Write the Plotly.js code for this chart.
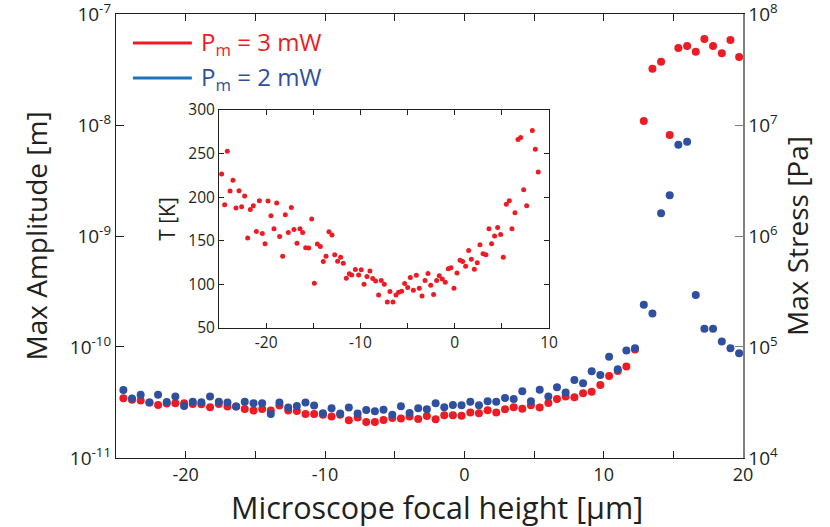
<!DOCTYPE html>
<html>
<head>
<meta charset="utf-8">
<script src="https://cdn.plot.ly/plotly-3.0.1.min.js"></script>
<style>
html,body{margin:0;padding:0;background:#fff;}
#chart{width:830px;height:527px;}
</style>
</head>
<body>
<div id="chart"></div>
<script>
// focal height positions [µm]
var focalHeight = [-24.47,-23.85,-23.23,-22.60,-21.98,-21.36,-20.74,-20.11,-19.49,-18.87,
  -18.25,-17.62,-17.00,-16.38,-15.76,-15.13,-14.51,-13.89,-13.27,-12.64,
  -12.02,-11.40,-10.78,-10.15,-9.53,-8.91,-8.29,-7.66,-7.04,-6.42,
  -5.80,-5.17,-4.55,-3.93,-3.31,-2.69,-2.06,-1.44,-0.82,-0.20,
  0.43,1.05,1.67,2.29,2.92,3.54,4.16,4.78,5.41,6.03,
  6.65,7.27,7.90,8.52,9.14,9.76,10.39,11.01,11.63,12.25,
  12.88,13.50,14.12,14.74,15.36,15.99,16.61,17.23,17.85,18.48,
  19.10,19.72];

// max amplitude [m], Pm = 3 mW
var amp3mW = [3.45e-11,3.35e-11,3.29e-11,3.15e-11,3.00e-11,3.10e-11,3.11e-11,3.11e-11,3.06e-11,3.05e-11,
  2.86e-11,3.06e-11,2.90e-11,2.90e-11,2.76e-11,2.67e-11,2.76e-11,2.67e-11,2.96e-11,2.67e-11,
  2.65e-11,2.49e-11,2.49e-11,2.45e-11,2.36e-11,2.45e-11,2.18e-11,2.31e-11,2.11e-11,2.11e-11,
  2.20e-11,2.29e-11,2.26e-11,2.36e-11,2.24e-11,2.39e-11,2.23e-11,2.42e-11,2.42e-11,2.40e-11,
  2.56e-11,2.52e-11,2.69e-11,2.56e-11,2.74e-11,2.86e-11,2.78e-11,2.98e-11,2.84e-11,3.13e-11,
  3.40e-11,3.57e-11,3.52e-11,3.83e-11,3.94e-11,4.55e-11,5.48e-11,6.08e-11,6.65e-11,9.5e-11,
  1.09e-8,3.21e-8,3.72e-8,8.13e-9,4.94e-8,5.15e-8,4.57e-8,5.95e-8,5.15e-8,4.43e-8,
  5.83e-8,4.10e-8];

// max amplitude [m], Pm = 2 mW
var amp2mW = [4.10e-11,3.43e-11,3.70e-11,3.15e-11,3.70e-11,3.19e-11,3.57e-11,2.94e-11,3.21e-11,3.17e-11,
  3.57e-11,3.21e-11,3.15e-11,2.90e-11,3.21e-11,3.11e-11,3.11e-11,2.49e-11,3.15e-11,2.84e-11,
  2.94e-11,3.15e-11,2.96e-11,2.52e-11,2.80e-11,2.51e-11,2.84e-11,2.51e-11,2.70e-11,2.63e-11,
  2.72e-11,2.45e-11,2.92e-11,2.54e-11,2.80e-11,2.74e-11,3.11e-11,2.86e-11,3.00e-11,2.98e-11,
  3.21e-11,2.98e-11,3.24e-11,3.20e-11,3.47e-11,3.40e-11,3.99e-11,3.24e-11,4.12e-11,3.57e-11,
  4.33e-11,3.88e-11,5.05e-11,4.71e-11,6.04e-11,5.60e-11,8.18e-11,6.30e-11,9.27e-11,9.73e-11,
  2.40e-10,2.00e-10,1.60e-9,2.33e-9,6.65e-9,7.08e-9,2.94e-10,1.46e-10,1.46e-10,1.12e-10,
  9.73e-11,8.77e-11];

// inset: temperature [K] vs focal height [µm]
var insetX = [-24.72,-24.40,-24.12,-23.83,-23.52,-23.20,-22.88,-22.60,-22.28,-21.96,
  -21.68,-21.36,-21.04,-20.72,-20.41,-20.12,-19.80,-19.49,-19.17,-18.88,
  -18.57,-18.25,-17.97,-17.65,-17.33,-17.05,-16.73,-16.41,-16.13,-15.81,
  -15.49,-15.17,-14.89,-14.57,-14.25,-13.94,-13.65,-13.34,-13.02,-12.73,
  -12.42,-12.10,-11.82,-11.50,-11.18,
  -10.93,-10.54,-10.19,-9.91,-9.62,-9.31,-8.99,-8.70,-8.39,-8.07,
  -7.79,-7.47,-7.15,-6.87,-6.55,-6.23,-5.95,-5.63,-5.31,-4.99,
  -4.71,-4.39,-4.07,-3.76,-3.47,-3.15,-2.84,-2.55,-2.24,-1.92,
  -1.64,-1.32,-1.00,-0.68,-0.40,-0.08,0.24,0.56,0.84,1.16,
  1.48,1.76,2.08,2.39,2.68,3.00,3.31,3.63,3.91,4.23,
  4.55,4.87,5.15,5.47,5.79,6.07,6.39,6.71,6.99,7.31,
  7.63,8.23,8.55,8.86];
var insetT = [226.6,191.4,252.7,207.1,219.3,187.5,207.5,189.1,201.3,153.1,
  186.0,190.2,160.7,196.0,158.4,146.6,195.6,178.7,163.8,193.3,
  155.0,132.4,179.9,159.6,188.3,163.0,147.3,163.8,159.6,142.0,
  141.6,174.9,101.3,146.2,143.5,126.2,132.4,160.3,156.5,133.9,
  126.6,131.2,124.3,107.1,112.1,
  110.9,117.0,110.9,116.7,100.2,109.0,115.5,106.7,104.0,87.9,
  104.4,100.2,79.9,91.8,79.9,87.9,91.0,92.1,101.0,96.4,
  107.9,93.3,110.5,95.6,86.8,104.4,112.5,99.0,88.3,104.4,
  109.8,106.3,102.5,117.8,119.0,95.6,113.2,127.8,126.2,120.9,
  138.9,128.9,117.4,124.7,145.4,135.1,133.9,163.8,146.6,155.4,
  165.3,157.3,131.2,191.8,196.0,163.8,182.2,266.1,268.4,208.6,
  190.2,276.4,255.0,228.9];

var xTickVals = [-25,-20,-15,-10,-5,0,5,10,15,20];
var xTickText = ['','-20','','-10','','0','','10','','20'];
var ampTickVals = [1e-11,1e-10,1e-9,1e-8,1e-7];
var ampTickText = ['10<sup>-11</sup>','10<sup>-10</sup>','10<sup>-9</sup>','10<sup>-8</sup>','10<sup>-7</sup>'];
var stressTickVals = [1e4,1e5,1e6,1e7,1e8];
var stressTickText = ['10<sup>4</sup>','10<sup>5</sup>','10<sup>6</sup>','10<sup>7</sup>','10<sup>8</sup>'];
var insetXTickVals = [-25,-20,-15,-10,-5,0,5,10];
var insetXTickText = ['','-20','','-10','','0','','10'];
var insetYTickVals = [50,100,150,200,250,300];

var RED = '#ed1c24';
var BLUE = '#2f4f9f';
var TXT = '#231f20';
var GREYAX = '#808080';
var FONT = '"Open Sans", "Noto Sans", sans-serif';

// minor log tick marks (2..9 in each decade) drawn as short axis-anchored shapes
var shapes = [];
function addMinorTicks(decadeExps, yref, side, color) {
  decadeExps.forEach(function (e) {
    for (var m = 2; m <= 9; m++) {
      var ly = e + Math.log10(m);
      shapes.push({type: 'line', xref: 'x domain', yref: yref,
        x0: side === 'left' ? 0 : 1, x1: side === 'left' ? 0.008 : 0.992,
        y0: ly, y1: ly, line: {color: color, width: 1}});
    }
  });
}
addMinorTicks([-11, -10, -9, -8], 'y', 'left', TXT);
addMinorTicks([4, 5, 6, 7], 'y2', 'right', GREYAX);

// legend lines
shapes.push({type: 'line', xref: 'paper', yref: 'paper', x0: 0.027, x1: 0.121, y0: 0.9347, y1: 0.9347,
  line: {color: RED, width: 3}});
shapes.push({type: 'line', xref: 'paper', yref: 'paper', x0: 0.027, x1: 0.121, y0: 0.8559, y1: 0.8559,
  line: {color: '#1b75bc', width: 3}});

var traces = [
  {x: focalHeight, y: amp3mW, mode: 'markers', type: 'scatter', xaxis: 'x', yaxis: 'y',
   marker: {color: RED, size: 8}, showlegend: false, cliponaxis: false},
  {x: focalHeight, y: amp2mW, mode: 'markers', type: 'scatter', xaxis: 'x', yaxis: 'y',
   marker: {color: BLUE, size: 8}, showlegend: false, cliponaxis: false},
  {x: [], y: [], mode: 'markers', type: 'scatter', xaxis: 'x', yaxis: 'y2', showlegend: false},
  {x: insetX, y: insetT, mode: 'markers', type: 'scatter', xaxis: 'x2', yaxis: 'y3',
   marker: {color: RED, size: 5}, showlegend: false}
];

var layout = {
  width: 830, height: 527,
  margin: {l: 116, r: 87, t: 14, b: 69},
  paper_bgcolor: '#fff', plot_bgcolor: 'rgba(0,0,0,0)',
  font: {family: FONT, color: TXT},
  showlegend: false,
  xaxis: {
    range: [-25, 20], autorange: false, domain: [0, 1],
    tickmode: 'array', tickvals: xTickVals, ticktext: xTickText,
    ticks: 'inside', ticklen: 7, tickcolor: TXT, tickwidth: 1,
    showline: true, linecolor: TXT, linewidth: 1.2, mirror: 'ticks',
    showgrid: false, zeroline: false,
    tickfont: {size: 18, color: TXT}
  },
  yaxis: {
    type: 'log', range: [-11.0008, -6.9992], autorange: false,
    tickmode: 'array', tickvals: ampTickVals, ticktext: ampTickText,
    ticks: 'inside', ticklen: 8, tickcolor: TXT,
    ticklabeloverflow: 'allow',
    showline: true, linecolor: TXT, linewidth: 1.2,
    showgrid: false, zeroline: false,
    tickfont: {size: 19, color: TXT},
    title: {text: 'Max Amplitude [m]', font: {size: 28, color: TXT}, standoff: 14}
  },
  yaxis2: {
    type: 'log', range: [3.9992, 8.0008], autorange: false,
    overlaying: 'y', side: 'right',
    tickmode: 'array', tickvals: stressTickVals, ticktext: stressTickText,
    ticks: 'inside', ticklen: 8, tickcolor: GREYAX,
    ticklabeloverflow: 'allow',
    showline: true, linecolor: GREYAX, linewidth: 1.5,
    showgrid: false, zeroline: false,
    tickfont: {size: 19, color: TXT},
    title: {text: 'Max Stress [Pa]', font: {size: 28, color: TXT}, standoff: 8}
  },
  xaxis2: {
    domain: [0.1643, 0.6906], anchor: 'y3',
    range: [-25, 10], autorange: false,
    tickmode: 'array', tickvals: insetXTickVals, ticktext: insetXTickText,
    ticks: 'inside', ticklen: 5, tickcolor: TXT,
    showline: true, linecolor: TXT, linewidth: 1, mirror: 'ticks',
    showgrid: false, zeroline: false,
    tickfont: {size: 15.5, color: TXT}
  },
  yaxis3: {
    domain: [0.2928, 0.7838], anchor: 'x2',
    range: [50, 300], autorange: false,
    tickmode: 'array', tickvals: insetYTickVals,
    ticks: 'inside', ticklen: 5, tickcolor: TXT,
    showline: true, linecolor: TXT, linewidth: 1, mirror: 'ticks',
    showgrid: false, zeroline: false,
    tickfont: {size: 15.5, color: TXT},
    title: {text: 'T [K]', font: {size: 21, color: TXT}, standoff: 6}
  },
  shapes: shapes,
  annotations: [
    {xref: 'paper', yref: 'paper', x: 0.5, y: 0, xanchor: 'center', yanchor: 'middle',
     xshift: 7, yshift: -49, showarrow: false,
     text: 'Microscope focal height [µm]', font: {size: 30.5, color: TXT}},
    {xref: 'paper', yref: 'paper', x: 0.133, y: 0.9347, xanchor: 'left', yanchor: 'middle',
     text: 'P<sub>m</sub> = 3 mW', showarrow: false, font: {size: 24, color: RED}},
    {xref: 'paper', yref: 'paper', x: 0.133, y: 0.8559, xanchor: 'left', yanchor: 'middle',
     text: 'P<sub>m</sub> = 2 mW', showarrow: false, font: {size: 24, color: BLUE}}
  ]
};

Plotly.newPlot('chart', traces, layout, {displayModeBar: false, staticPlot: true});
</script>
</body>
</html>
